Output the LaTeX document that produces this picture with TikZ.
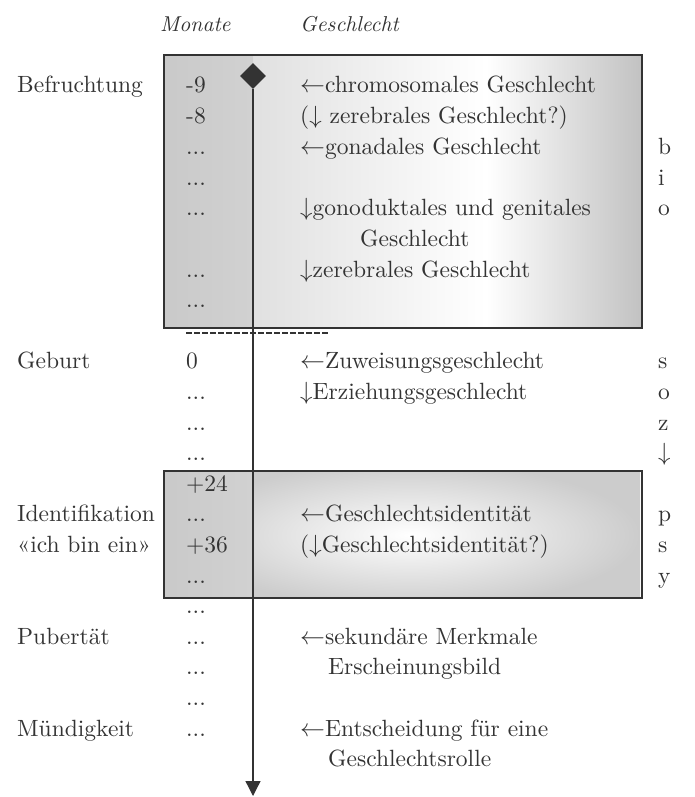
\documentclass[tikz,border=0pt]{standalone}
\usepackage{fontspec}
\setmainfont{lmroman10}[Extension=.otf, UprightFont=*-regular, ItalicFont=*-italic]
\usetikzlibrary{arrows.meta,shapes.geometric}
\definecolor{ink}{HTML}{333333}
\pgfdeclarehorizontalshading{boxfade}{100bp}{color(0bp)=(gray!24); color(25bp)=(gray!24); color(55bp)=(white); color(75bp)=(gray!48); color(100bp)=(gray!48)}

\begin{document}
\begin{tikzpicture}[x=1pt,y=-1pt,
    every node/.style={font=\fontsize{23.5}{30}\selectfont, text=ink, inner sep=0pt, anchor=base west},
    head/.style={font=\fontsize{21.5}{26}\selectfont\itshape},
    frame/.style={draw=ink, line width=1.6pt}]
    \useasboundingbox (0,0) rectangle (695,797);

    % shaded boxes
    \fill[left color=gray!42, right color=gray!36] (164,55) rectangle (253,328);
    \shade[shading=boxfade] (253,55) rectangle (642,328);
    \draw[frame] (164,55) rectangle (642,328);
    \fill[left color=gray!42, right color=gray!36] (164,471) rectangle (253,598);
    \begin{scope}
        \clip (253,471) rectangle (642,598);
        \shade[inner color=white, outer color=gray!40] (180,462) rectangle (640,608);
    \end{scope}
    \draw[frame] (164,471) rectangle (642,598);
    \draw[ink, line width=2.4pt, dash pattern=on 6pt off 2pt] (186,333) -- (329,333);

    % time axis
    \node[diamond, fill=ink, anchor=center, minimum width=26pt, minimum height=26pt] (start) at (253,76) {};
    \coordinate (end) at (253,796);
    \draw[ink, line width=1.3pt, -{Triangle[length=15pt,width=15pt]}] (start.south) -- (end);

    % column heads
    \node[head] (monate) at (160,32) {Monate};
    \node[head] (geschl) at (300,32) {Geschlecht};

    % stages
    \node (befr) at (17,93) {Befruchtung};
    \node (geburt) at (17,368) {Geburt};
    \node (ident) at (17,521) {Identifikation};
    \node (ichbin) at (17,552) {«ich bin ein»};
    \node (pub) at (17,644) {Pubertät};
    \node (muend) at (17,736) {Mündigkeit};

    % months
    \node (m9) at (186,93) {-9};
    \node (m8) at (186,124) {-8};
    \node (d2) at (186,154) {...};
    \node (d3) at (186,185) {...};
    \node (d4) at (186,215) {...};
    \node (d6) at (186,277) {...};
    \node (d7) at (186,307) {...};
    \node (m0) at (186,368) {0};
    \node (d10) at (186,399) {...};
    \node (d11) at (186,430) {...};
    \node (d12) at (186,460) {...};
    \node (m24) at (186,491) {+24};
    \node (d14) at (186,521) {...};
    \node (m36) at (186,552) {+36};
    \node (d16) at (186,583) {...};
    \node (d17) at (186,613) {...};
    \node (d18) at (186,644) {...};
    \node (d19) at (186,674) {...};
    \node (d20) at (186,705) {...};
    \node (d21) at (186,736) {...};

    % sex
    \node (chrom) at (300,93) {$\leftarrow$chromosomales Geschlecht};
    \node (zereq) at (300,124) {($\downarrow$ zerebrales Geschlecht?)};
    \node (gonad) at (300,154) {$\leftarrow$gonadales Geschlecht};
    \node (gonod) at (300,215) {$\downarrow$gonoduktales und genitales};
    \node (gonodb) at (360,246) {Geschlecht};
    \node (zereb) at (300,277) {$\downarrow$zerebrales Geschlecht};
    \node (zuw) at (300,368) {$\leftarrow$Zuweisungsgeschlecht};
    \node (erz) at (300,399) {$\downarrow$Erziehungsgeschlecht};
    \node (gid) at (300,521) {$\leftarrow$Geschlechtsidentität};
    \node (gidq) at (300,552) {($\downarrow$Geschlechtsidentität?)};
    \node (sek) at (300,644) {$\leftarrow$sekundäre Merkmale};
    \node (sekb) at (328,674) {Erscheinungsbild};
    \node (ents) at (300,736) {$\leftarrow$Entscheidung für eine};
    \node (entsb) at (328,766) {Geschlechtsrolle};

    % bio / soz / psy
    \node (b1) at (658,154) {b};
    \node (b2) at (658,185) {i};
    \node (b3) at (658,215) {o};
    \node (s1) at (658,368) {s};
    \node (s2) at (658,399) {o};
    \node (s3) at (658,430) {z};
    \node (s4) at (658,460) {$\downarrow$};
    \node (p1) at (658,521) {p};
    \node (p2) at (658,552) {s};
    \node (p3) at (658,583) {y};
\end{tikzpicture}
\end{document}
